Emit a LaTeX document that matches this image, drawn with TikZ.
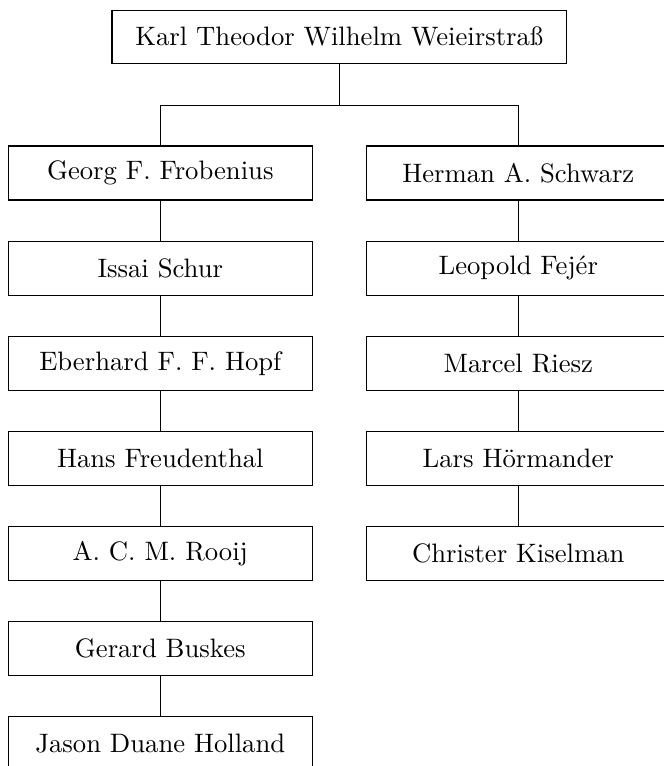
\documentclass[tikz,border=0pt]{standalone}
\usepackage{fontspec}
\begin{document}
\begin{tikzpicture}[x=0.375pt,y=-0.375pt,
  box/.style={draw, line width=0.4pt, minimum width=114pt, minimum height=20.25pt, inner sep=0pt},
  link/.style={line width=0.4pt}]
\useasboundingbox (0,0) rectangle (664,766);
\node[box, minimum width=170.5pt, minimum height=20.1pt] (k) at (339.3,36.85) {Karl Theodor Wilhelm Weieirstraß};
\coordinate (br) at (339.3,105.3);
% left column
\node[box] (l1) at (160.3,173.0) {Georg F. Frobenius};
\node[box] (l2) at (160.3,268.1) {Issai Schur};
\node[box] (l3) at (160.3,363.2) {Eberhard F. F. Hopf};
\node[box] (l4) at (160.3,458.3) {Hans Freudenthal};
\node[box] (l5) at (160.3,553.4) {A. C. M. Rooij};
\node[box] (l6) at (160.3,648.5) {Gerard Buskes};
\node[box] (l7) at (160.3,743.6) {Jason Duane Holland};
% right column
\node[box] (r1) at (518.3,173.0) {Herman A. Schwarz};
\node[box] (r2) at (518.3,268.1) {Leopold Fejér};
\node[box] (r3) at (518.3,363.2) {Marcel Riesz};
\node[box] (r4) at (518.3,458.3) {Lars Hörmander};
\node[box] (r5) at (518.3,553.4) {Christer Kiselman};
% connectors
\draw[link] (k.south) -- (br);
\draw[link] (br) -| (l1.north);
\draw[link] (br) -| (r1.north);
\draw[link] (l1) -- (l2);
\draw[link] (l2) -- (l3);
\draw[link] (l3) -- (l4);
\draw[link] (l4) -- (l5);
\draw[link] (l5) -- (l6);
\draw[link] (l6) -- (l7);
\draw[link] (r1) -- (r2);
\draw[link] (r2) -- (r3);
\draw[link] (r3) -- (r4);
\draw[link] (r4) -- (r5);
\end{tikzpicture}
\end{document}
